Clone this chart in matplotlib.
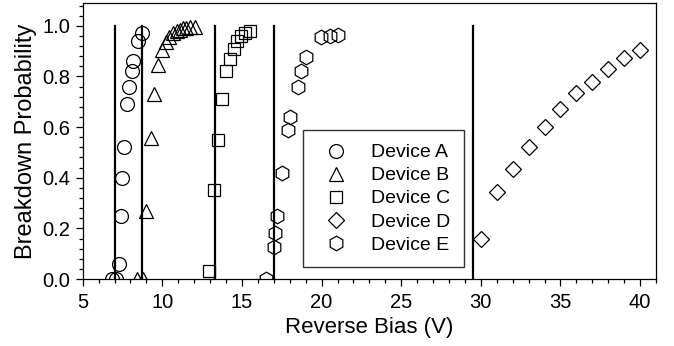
import numpy as np
import matplotlib.pyplot as plt
from matplotlib.ticker import MultipleLocator

plt.rcParams['font.family'] = ['Liberation Sans', 'DejaVu Sans']

# breakdown probability vs reverse bias for each device
bias_a = [6.85, 7.1, 7.3, 7.41, 7.49, 7.6, 7.77, 7.91, 8.08, 8.18, 8.46, 8.73]
prob_a = [0.0, 0.0, 0.06, 0.25, 0.40, 0.52, 0.69, 0.76, 0.82, 0.86, 0.94, 0.97]

bias_b = [8.43, 8.77, 8.98, 9.3, 9.5, 9.75, 9.97, 10.22, 10.45, 10.7, 10.9,
          11.1, 11.3, 11.5, 11.75, 12.05]
prob_b = [0.0, 0.0, 0.27, 0.555, 0.73, 0.845, 0.905, 0.935, 0.955, 0.97, 0.98,
          0.985, 0.99, 0.993, 0.995, 0.997]

bias_c = [12.96, 13.26, 13.47, 13.74, 14.0, 14.26, 14.47, 14.72, 14.94, 15.2, 15.52]
prob_c = [0.03, 0.35, 0.55, 0.71, 0.82, 0.87, 0.91, 0.94, 0.96, 0.97, 0.98]

bias_d = [30.0, 31.0, 32.0, 33.0, 34.0, 35.0, 36.0, 37.0, 38.0, 39.0, 40.0]
prob_d = [0.157, 0.344, 0.433, 0.52, 0.60, 0.67, 0.733, 0.78, 0.83, 0.871, 0.905]

bias_e = [16.5, 16.99, 17.1, 17.2, 17.52, 17.9, 18.0, 18.5, 18.71, 19.0,
          19.99, 20.55, 21.0]
prob_e = [0.0, 0.125, 0.18, 0.25, 0.42, 0.59, 0.64, 0.76, 0.82, 0.875,
          0.955, 0.96, 0.965]

# breakdown voltages (vertical markers)
vbr = [7.0, 8.75, 13.28, 17.0, 29.5]

fig = plt.figure(figsize=(6.74, 3.46), dpi=100)
ax = fig.add_axes([0.1227, 0.1936, 0.8506, 0.7977])

for v in vbr:
    ax.plot([v, v], [0, 1.0], color='black', lw=1.6, zorder=1)

kw = dict(ls='none', mfc='none', mec='black', mew=0.9, zorder=3)
ax.plot(bias_a, prob_a, marker='o', ms=10, label='Device A', **kw)
ax.plot(bias_b, prob_b, marker='^', ms=10, label='Device B', **kw)
ax.plot(bias_c, prob_c, marker='s', ms=9, label='Device C', **kw)
ax.plot(bias_d, prob_d, marker='D', ms=8.5, label='Device D', **kw)
ax.plot(bias_e, prob_e, marker='h', ms=10.5, label='Device E', **kw)

ax.set_xlim(5, 41)
ax.set_ylim(0, 1.09)
ax.xaxis.set_major_locator(MultipleLocator(5))
ax.xaxis.set_minor_locator(MultipleLocator(1))
ax.yaxis.set_major_locator(MultipleLocator(0.2))
ax.yaxis.set_minor_locator(MultipleLocator(0.04))
ax.yaxis.set_major_formatter(plt.FormatStrFormatter('%.1f'))
ax.tick_params(which='both', direction='out', top=False, right=False,
               width=0.9, labelsize=14.5)
ax.tick_params(which='major', length=5)
ax.tick_params(which='minor', length=3)
ax.tick_params(axis='x', which='major', pad=5)
ax.tick_params(axis='y', which='major', pad=4)
for s in ax.spines.values():
    s.set_linewidth(0.9)

ax.set_xlabel('Reverse Bias (V)', fontsize=16, labelpad=4)
ax.set_ylabel('Breakdown Probability', fontsize=17, labelpad=4)

leg = ax.legend(loc='lower left', bbox_to_anchor=(0.385, 0.0435, 0.28, 0.49),
                mode='expand', borderaxespad=0, fontsize=14, fancybox=False,
                frameon=True, edgecolor='black', handlelength=2.0,
                handletextpad=0.76, labelspacing=0.28, borderpad=0.69)
leg.get_frame().set_linewidth(1.0)

fig.savefig('out.png', dpi=100)
